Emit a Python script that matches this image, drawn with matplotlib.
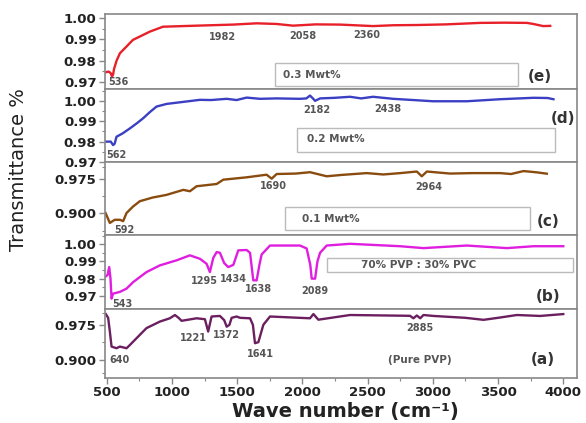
import numpy as np
import matplotlib
matplotlib.use("Agg")
import matplotlib.pyplot as plt
from matplotlib.patches import Rectangle
from matplotlib.ticker import FixedLocator, FixedFormatter

# FTIR spectra (wave number in cm-1, transmittance)
wn_e = [490, 515, 530, 540, 548, 555, 575, 600, 700, 830, 930, 1083, 1300, 1467, 1650, 1800, 1928,
        2100, 2290, 2541, 2700, 2877, 3100, 3363, 3550, 3721, 3770, 3846, 3900]
tr_e = [0.9745, 0.9748, 0.9740, 0.9725, 0.9735, 0.9760, 0.9800, 0.9834, 0.9897, 0.9936, 0.9959, 0.9962,
        0.9966, 0.9969, 0.9975, 0.9972, 0.9964, 0.9970, 0.9969, 0.9962, 0.9966, 0.9967, 0.9970, 0.9977,
        0.9978, 0.9977, 0.9972, 0.9962, 0.9963]

wn_d = [490, 530, 548, 560, 574, 620, 677, 730, 779, 830, 881, 958, 1112, 1214, 1300, 1419, 1495, 1572,
        1674, 1800, 1981, 2030, 2058, 2080, 2097, 2135, 2250, 2365, 2450, 2541, 2695, 2850, 3002, 3260,
        3516, 3771, 3880, 3925]
tr_d = [0.9800, 0.9800, 0.9783, 0.9790, 0.9824, 0.9840, 0.9865, 0.9890, 0.9915, 0.9945, 0.9972, 0.9985,
        0.9997, 1.0005, 1.0004, 1.0010, 1.0004, 1.0016, 1.0010, 1.0012, 1.0010, 1.0012, 1.0026, 1.0012,
        1.0000, 1.0012, 1.0015, 1.0020, 1.0012, 1.0020, 1.0010, 1.0004, 0.9998, 0.9998, 1.0008, 1.0015,
        1.0014, 1.0008]

wn_c = [490, 523, 560, 600, 625, 651, 700, 753, 850, 958, 1086, 1137, 1188, 1342, 1393, 1572, 1725, 1764,
        1802, 1950, 2058, 2186, 2300, 2493, 2620, 2750, 2877, 2915, 2954, 3132, 3300, 3516, 3600, 3695,
        3797, 3874]
tr_c = [0.900, 0.878, 0.885, 0.885, 0.882, 0.900, 0.914, 0.926, 0.934, 0.940, 0.951, 0.948, 0.959, 0.964,
        0.9735, 0.9787, 0.9845, 0.9757, 0.986, 0.987, 0.990, 0.981, 0.984, 0.988, 0.985, 0.988, 0.9915,
        0.981, 0.9915, 0.987, 0.988, 0.988, 0.986, 0.9925, 0.9897, 0.9867]

wn_b = [485, 505, 518, 528, 536, 548, 600, 651, 702, 804, 907, 1034, 1137, 1214, 1265, 1290, 1316, 1342,
        1367, 1400, 1431, 1470, 1508, 1572, 1598, 1623, 1649, 1670, 1687, 1751, 1981, 2032, 2060, 2071,
        2097, 2115, 2135, 2186, 2365, 2749, 2928, 3260, 3567, 3772, 4000]
tr_b = [0.981, 0.982, 0.9867, 0.980, 0.9684, 0.9713, 0.9723, 0.9742, 0.978, 0.9838, 0.9877, 0.9906,
        0.9935, 0.9915, 0.9886, 0.9838, 0.992, 0.9954, 0.9950, 0.9890, 0.9867, 0.9880, 0.9964, 0.9966,
        0.9950, 0.979, 0.979, 0.988, 0.9940, 0.9992, 0.9992, 0.9975, 0.988, 0.980, 0.980, 0.990, 0.995,
        0.9992, 1.0002, 0.9988, 0.9977, 0.9992, 0.9977, 0.9988, 0.9988]

wn_a = [492, 510, 523, 536, 574, 600, 651, 677, 728, 804, 907, 983, 1022, 1050, 1073, 1188, 1252, 1277,
        1303, 1367, 1400, 1419, 1440, 1457, 1495, 1521, 1598, 1620, 1636, 1662, 1700, 1751, 2058, 2084,
        2122, 2365, 2825, 2851, 2877, 2903, 2928, 3005, 3250, 3388, 3500, 3644, 3823, 4000]
tr_a = [0.998, 0.990, 0.9607, 0.9285, 0.925, 0.9285, 0.925, 0.932, 0.9465, 0.968, 0.982, 0.989, 0.996,
        0.990, 0.9836, 0.989, 0.987, 0.9607, 0.9928, 0.994, 0.985, 0.971, 0.975, 0.990, 0.9928, 0.990,
        0.989, 0.975, 0.9357, 0.938, 0.975, 0.9928, 0.989, 0.998, 0.986, 0.996, 0.9943, 0.989, 0.995,
        0.989, 0.996, 0.994, 0.990, 0.9857, 0.990, 0.996, 0.994, 0.998]

# peak labels: (text, x, y, alignment)
peaks_e = [("536", 508, 0.9700, "left"), ("1982", 1390, 0.9912, "center"),
           ("2058", 2004, 0.9915, "center"), ("2360", 2493, 0.9920, "center")]
peaks_d = [("562", 497, 0.9734, "left"), ("2182", 2109, 0.9956, "center"), ("2438", 2657, 0.9961, "center")]
peaks_c = [("592", 638, 0.8632, "center"), ("1690", 1776, 0.959, "center"), ("2964", 2966, 0.9567, "center")]
peaks_b = [("543", 543, 0.9655, "left"), ("1295", 1252, 0.9784, "center"), ("1434", 1469, 0.9800, "center"),
           ("1638", 1661, 0.9738, "center"), ("2089", 2096, 0.9727, "center")]
peaks_a = [("640", 523, 0.900, "left"), ("1221", 1162, 0.9465, "center"), ("1372", 1419, 0.9536, "center"),
           ("1641", 1679, 0.912, "center"), ("2885", 2897, 0.9692, "center")]

fig = plt.figure(figsize=(5.86, 4.23), dpi=100)

left, width = 0.179, 0.806
edges = [0.967, 0.790, 0.617, 0.444, 0.270, 0.106]
spine_col = "#888888"
txt_col = "#555555"
tick_col = "#222222"

panels = [
    (wn_e, tr_e, "#e8202a", (0.9667, 1.0019), [0.97, 0.98, 0.99, 1.00], "%.2f", peaks_e),
    (wn_d, tr_d, "#3b3fc4", (0.9700, 1.0059), [0.97, 0.98, 0.99, 1.00], "%.2f", peaks_d),
    (wn_c, tr_c, "#8a4b0f", (0.851, 1.0125), [0.900, 0.975], "%.3f", peaks_c),
    (wn_b, tr_b, "#e01ee0", (0.9625, 1.0052), [0.97, 0.98, 0.99, 1.00], "%.2f", peaks_b),
    (wn_a, tr_a, "#6b1f5f", (0.861, 1.0093), [0.900, 0.975], "%.3f", peaks_a),
]

axes = []
for i, (wn, tr, col, ylim, yt, fmt, peaks) in enumerate(panels):
    ax = fig.add_axes([left, edges[i + 1], width, edges[i] - edges[i + 1]])
    ax.plot(wn, tr, color=col, lw=1.7)
    ax.set_xlim(485, 4107)
    ax.set_ylim(*ylim)
    ax.yaxis.set_major_locator(FixedLocator(yt))
    ax.yaxis.set_major_formatter(FixedFormatter([fmt % v for v in yt]))
    if fmt == "%.2f":
        ax.yaxis.set_minor_locator(FixedLocator([v + 0.005 for v in yt]))
    else:
        ax.yaxis.set_minor_locator(FixedLocator([ylim[0] + 0.01, 0.9375, ylim[1] - 0.01]))
    ax.tick_params(axis="y", which="major", length=4, width=1, color=spine_col,
                   labelsize=9.5, pad=2)
    ax.tick_params(axis="y", which="minor", length=2, width=0.8, color=spine_col)
    for lab in ax.get_yticklabels():
        lab.set_fontweight("bold")
        lab.set_color(tick_col)
    for s in ax.spines.values():
        s.set_color(spine_col)
        s.set_linewidth(1.2)
    for t, x, y, ha in peaks:
        ax.text(x, y, t, fontsize=7, fontweight="bold", color=txt_col, ha=ha, va="center")
    if i < 4:
        ax.set_xticks([])
    axes.append(ax)

# sample boxes and panel letters
ax_e, ax_d, ax_c, ax_b, ax_a = axes
box_kw = dict(fill=False, edgecolor="#bbbbbb", lw=1.0)
ax_e.add_patch(Rectangle((1789, 0.9678), 3654 - 1789, 0.9787 - 0.9678, **box_kw))
ax_e.text(1848, 0.9732, "0.3 Mwt%", fontsize=7.5, fontweight="bold", color=txt_col, va="center")
ax_e.text(3823, 0.9725, "(e)", fontsize=11, fontweight="bold", color="#333333", ha="center", va="center")

ax_d.add_patch(Rectangle((1956, 0.9750), 3939 - 1956, 0.9869 - 0.9750, **box_kw))
ax_d.text(2032, 0.9811, "0.2 Mwt%", fontsize=7.5, fontweight="bold", color=txt_col, va="center")
ax_d.text(4000, 0.9915, "(d)", fontsize=11, fontweight="bold", color="#333333", ha="center", va="center",
          clip_on=False)

ax_c.add_patch(Rectangle((1866, 0.8632), 3746 - 1866, 0.9125 - 0.8632, **box_kw))
ax_c.text(1994, 0.8874, "0.1 Mwt%", fontsize=7.5, fontweight="bold", color=txt_col, va="center")
ax_c.text(3887, 0.8817, "(c)", fontsize=11, fontweight="bold", color="#333333", ha="center", va="center")

ax_b.add_patch(Rectangle((2185, 0.9838), 4078 - 2185, 0.9919 - 0.9838, **box_kw))
ax_b.text(2889, 0.9877, "70% PVP : 30% PVC", fontsize=7.5, fontweight="bold", color=txt_col,
          ha="center", va="center")
ax_b.text(3887, 0.9694, "(b)", fontsize=11, fontweight="bold", color="#333333", ha="center", va="center")

ax_a.text(2902, 0.900, "(Pure PVP)", fontsize=7.5, fontweight="bold", color=txt_col, ha="center", va="center")
ax_a.text(3847, 0.900, "(a)", fontsize=11, fontweight="bold", color="#333333", ha="center", va="center")

# bottom x axis
ax_a.set_xticks(np.arange(500, 4001, 500))
ax_a.set_xticks(np.arange(750, 4000, 500), minor=True)
ax_a.tick_params(axis="x", which="major", length=4, width=1, color=spine_col, labelsize=9.5, pad=2)
ax_a.tick_params(axis="x", which="minor", length=2, width=0.8, color=spine_col)
for lab in ax_a.get_xticklabels():
    lab.set_fontweight("bold")
    lab.set_color(tick_col)

fig.text(0.59, 0.028, "Wave number (cm\u207b\u00b9)", fontsize=14, fontweight="bold",
         color="#222222", ha="center", va="center")
fig.text(0.032, 0.60, "Transmittance %", fontsize=14, rotation=90, color="#222222",
         ha="center", va="center")

fig.savefig("out.png", dpi=100)
